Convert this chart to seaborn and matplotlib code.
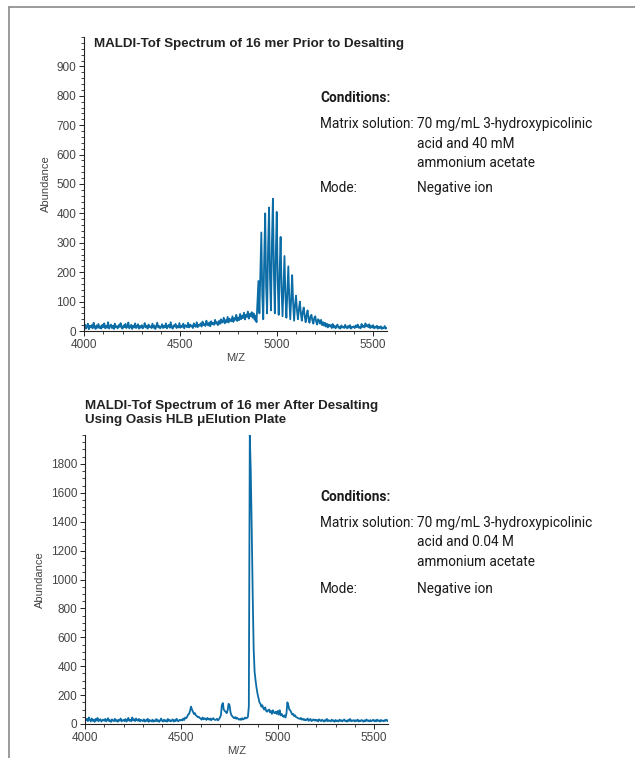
import numpy as np
import pandas as pd
import matplotlib
matplotlib.use("Agg")
import matplotlib.pyplot as plt
from matplotlib.lines import Line2D
from matplotlib.ticker import MultipleLocator
import seaborn as sns

# m/z grid (5 Da steps) shared by both spectra
MZ = np.arange(4000, 5571, 5)

# abundance before desalting
before = [
    10, 22, 8, 15, 25, 6, 18, 12, 20, 9, 28, 14, 7, 19, 11, 24, 10, 16, 8, 21,
    13, 26, 9, 17, 11, 30, 8, 15, 22, 10, 18, 7, 25, 12, 16, 9, 20, 14, 27, 11,
    8, 19, 13, 24, 10, 16, 29, 9, 14, 21, 7, 18, 12, 26, 10, 15, 23, 8, 17, 11,
    20, 9, 14, 27, 12, 18, 8, 22, 13, 16, 10, 25, 11, 19, 7, 15, 28, 12, 17, 9,
    14, 23, 10, 18, 12, 26, 9, 16, 21, 11, 30, 13, 8, 19, 15, 24, 10, 17, 12, 27,
    11, 18, 14, 25, 9, 20, 16, 13, 28, 12, 22, 15, 19, 10, 26, 17, 14, 30, 13, 21,
    18, 26, 15, 32, 20, 24, 17, 35, 22, 19, 29, 16, 33, 23, 27, 21, 38, 25, 30, 20,
    34, 24, 40, 28, 31, 45, 26, 37, 30, 48, 29, 42, 35, 33, 50, 31, 44, 38, 55, 34,
    46, 37, 58, 40, 52, 44, 62, 39, 55, 48, 66, 42, 58, 50, 64, 45, 60, 38, 52, 30,
    100, 170, 60, 200, 335, 120, 40, 250, 400, 150, 60, 280, 420, 180, 70, 300, 450, 200, 60, 260,
    405, 170, 55, 200, 320, 140, 50, 150, 255, 120, 45, 130, 220, 110, 40, 110, 190, 95, 35, 90,
    120, 70, 40, 75, 100, 60, 35, 65, 80, 50, 30, 55, 70, 40, 28, 50, 55, 35, 25, 45,
    50, 30, 22, 40, 35, 25, 38, 20, 30, 18, 28, 15, 25, 12, 22, 16, 20, 10, 24, 12,
    18, 9, 16, 22, 11, 14, 8, 19, 12, 15, 10, 21, 13, 9, 17, 11, 20, 8, 14, 12,
    16, 10, 19, 13, 22, 11, 15, 9, 24, 14, 18, 12, 26, 16, 20, 13, 23, 10, 17, 12,
    20, 9, 15, 11, 18, 8, 14, 10, 16, 7, 12, 9, 17, 8, 10,
]

# abundance after desalting
after = [
    40, 25, 35, 20, 45, 28, 18, 38, 22, 30, 15, 35, 24, 42, 19, 28, 33, 17, 26, 30,
    22, 35, 18, 28, 40, 20, 26, 15, 32, 24, 19, 36, 21, 27, 16, 30, 23, 38, 18, 25,
    28, 20, 34, 17, 26, 42, 22, 30, 19, 45, 25, 33, 20, 38, 27, 22, 35, 18, 29, 24,
    20, 32, 17, 26, 21, 36, 15, 28, 22, 18, 30, 16, 25, 20, 34, 19, 27, 15, 24, 38,
    22, 17, 30, 20, 26, 16, 35, 21, 28, 18, 24, 32, 17, 27, 20, 36, 22, 19, 29, 25,
    30, 24, 38, 28, 45, 40, 50, 65, 70, 90, 120, 100, 85, 70, 75, 60, 55, 48, 50, 42,
    38, 30, 45, 32, 40, 36, 28, 42, 34, 30, 38, 26, 35, 40, 32, 28, 30, 36, 25, 33,
    45, 60, 130, 145, 100, 90, 85, 75, 95, 140, 130, 80, 60, 52, 45, 40, 48, 36, 42, 35,
    30, 36, 28, 40, 32, 35, 45, 38, 42, 48, 120, 2000, 1750, 1350, 900, 520, 360, 300, 250, 210,
    180, 150, 140, 120, 130, 110, 100, 115, 90, 85, 95, 100, 80, 90, 70, 95, 80, 75, 85, 70,
    90, 65, 95, 60, 70, 55, 50, 60, 45, 70, 150, 130, 100, 95, 80, 65, 70, 55, 60, 48,
    45, 40, 38, 35, 42, 30, 36, 28, 33, 25, 30, 38, 22, 28, 35, 20, 26, 32, 24, 30,
    22, 28, 18, 32, 25, 20, 30, 24, 17, 27, 21, 35, 19, 26, 23, 18, 30, 22, 25, 16,
    28, 20, 24, 17, 30, 22, 26, 18, 25, 32, 20, 23, 16, 28, 21, 35, 19, 25, 22, 27,
    18, 26, 21, 30, 17, 24, 20, 28, 23, 16, 26, 19, 31, 22, 25, 18, 27, 20, 24, 29,
    20, 26, 18, 30, 22, 25, 17, 28, 21, 24, 19, 27, 22, 30, 20,
]

title_before = "MALDI-Tof Spectrum of 16 mer Prior to Desalting"
title_after = "MALDI-Tof Spectrum of 16 mer After Desalting\nUsing Oasis HLB \u03bcElution Plate"
matrix_before = ["70 mg/mL 3-hydroxypicolinic", "acid and 40 mM", "ammonium acetate"]
matrix_after = ["70 mg/mL 3-hydroxypicolinic", "acid and 0.04 M", "ammonium acetate"]

sns.set_theme(style="ticks")
plt.rcParams['font.family'] = ['Liberation Sans', 'DejaVu Sans']

LINE_COLOR = '#0b6ca6'
W, H = 635, 758

fig = plt.figure(figsize=(W / 100, H / 100), dpi=100)
fig.patch.set_facecolor('white')


def px_axes(l, t, r, b):
    return fig.add_axes([l / W, 1 - b / H, (r - l) / W, (b - t) / H])


ax1 = px_axes(84, 37, 387, 331)
ax2 = px_axes(85, 435, 388, 724)


def draw_spectrum(ax, values, ymax, ymajor, yminor):
    df = pd.DataFrame({'mz': MZ, 'abundance': values})
    sns.lineplot(data=df, x='mz', y='abundance', ax=ax, color=LINE_COLOR,
                 linewidth=1.3, estimator=None, sort=False)
    ax.set_xticks([4000, 4500, 5000, 5500])
    ax.xaxis.set_minor_locator(MultipleLocator(100))
    ax.set_yticks(np.arange(0, ymax, ymajor))
    ax.yaxis.set_minor_locator(MultipleLocator(yminor))
    ax.set_xlim(4000, 5572)
    ax.set_ylim(0, ymax)
    sns.despine(ax=ax)
    for s in ['left', 'bottom']:
        ax.spines[s].set_linewidth(0.8)
        ax.spines[s].set_color('#222222')
    ax.tick_params(which='major', length=3.5, width=0.7, labelsize=8.5,
                   colors='#222222', labelcolor='#444444', pad=2)
    ax.tick_params(which='minor', length=2, width=0.6, colors='#222222')
    ax.set_xlabel('M/Z', fontsize=8, color='#444444', labelpad=2)
    ax.set_ylabel('Abundance', fontsize=8, color='#444444', labelpad=4)
    ax.set_facecolor('white')


draw_spectrum(ax1, before, 1000, 100, 20)
draw_spectrum(ax2, after, 2000, 200, 50)

# titles
fig.text(94 / W, 1 - 44 / H, title_before, fontsize=9.6, fontweight='bold',
         color='#222222', va='center', ha='left')
fig.text(85 / W, 1 - 413 / H, title_after, fontsize=9.6, fontweight='bold',
         color='#222222', va='center', ha='left', linespacing=1.3)

# conditions blocks
cond_font = ['Roboto', 'DejaVu Sans']
CS = 9.8


def conditions(top, matrix_lines, gap_after_matrix):
    fig.text(320 / W, 1 - top / H, 'Conditions:', fontsize=CS, fontweight='bold',
             family=cond_font, color='#1a1a1a', va='center')
    fig.text(320 / W, 1 - (top + 26) / H, 'Matrix solution:', fontsize=CS,
             family=cond_font, color='#1a1a1a', va='center')
    for i, ln in enumerate(matrix_lines):
        fig.text(417 / W, 1 - (top + 26 + i * 19.5) / H, ln, fontsize=CS,
                 family=cond_font, color='#1a1a1a', va='center')
    ymode = top + 26 + gap_after_matrix
    fig.text(320 / W, 1 - ymode / H, 'Mode:', fontsize=CS,
             family=cond_font, color='#1a1a1a', va='center')
    fig.text(417 / W, 1 - ymode / H, 'Negative ion', fontsize=CS,
             family=cond_font, color='#1a1a1a', va='center')


conditions(98, matrix_before, 64)
conditions(497, matrix_after, 66)

# page frame (top and left edges)
fig.add_artist(Line2D([9 / W, 1], [1 - 7 / H, 1 - 7 / H], transform=fig.transFigure,
                      color='#8a8a8a', linewidth=1.2))
fig.add_artist(Line2D([9 / W, 9 / W], [0, 1 - 7 / H], transform=fig.transFigure,
                      color='#8a8a8a', linewidth=1.2))

fig.savefig('out.png', dpi=100, facecolor='white')
plt.close(fig)
